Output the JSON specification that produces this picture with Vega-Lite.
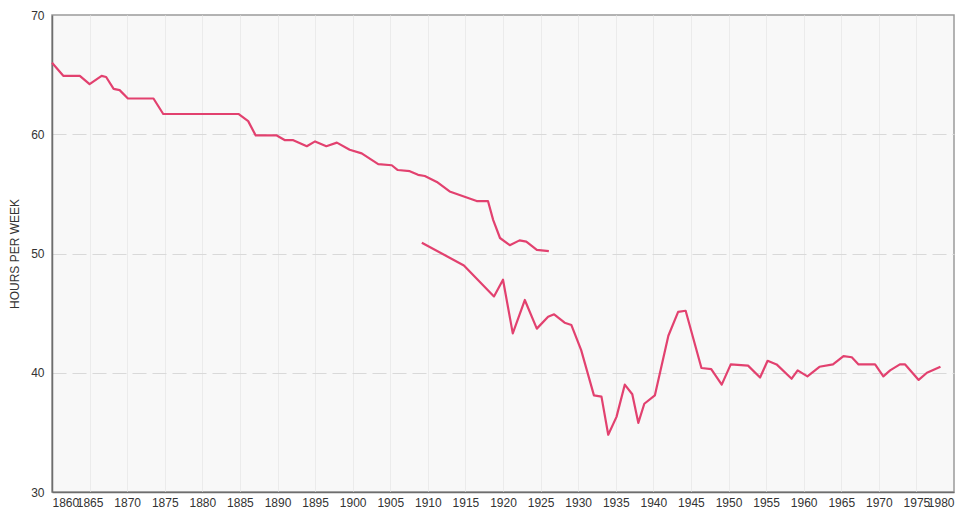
{
  "$schema": "https://vega.github.io/schema/vega-lite/v6.json",
  "width": 902,
  "height": 477,
  "autosize": {"type": "none"},
  "padding": {"left": 52, "top": 15, "right": 7, "bottom": 20},
  "background": "#ffffff",
  "config": {
    "view": {"fill": "#f8f8f8", "stroke": "#9a9a9a", "strokeWidth": 1.5},
    "font": "Liberation Sans"
  },
  "data": {
    "values": [
      {"series": "A", "year": 1860, "hours": 66.0},
      {"series": "A", "year": 1861.5, "hours": 64.9},
      {"series": "A", "year": 1863.7, "hours": 64.9},
      {"series": "A", "year": 1865, "hours": 64.2},
      {"series": "A", "year": 1866.6, "hours": 64.9},
      {"series": "A", "year": 1867.2, "hours": 64.8},
      {"series": "A", "year": 1868.2, "hours": 63.8},
      {"series": "A", "year": 1869, "hours": 63.7},
      {"series": "A", "year": 1870.1, "hours": 63.0},
      {"series": "A", "year": 1873.5, "hours": 63.0},
      {"series": "A", "year": 1874.8, "hours": 61.7},
      {"series": "A", "year": 1884.8, "hours": 61.7},
      {"series": "A", "year": 1886.1, "hours": 61.1},
      {"series": "A", "year": 1887.1, "hours": 59.9},
      {"series": "A", "year": 1889.9, "hours": 59.9},
      {"series": "A", "year": 1891, "hours": 59.5},
      {"series": "A", "year": 1892.1, "hours": 59.5},
      {"series": "A", "year": 1893.9, "hours": 59.0},
      {"series": "A", "year": 1895, "hours": 59.4},
      {"series": "A", "year": 1896.5, "hours": 59.0},
      {"series": "A", "year": 1897.9, "hours": 59.3},
      {"series": "A", "year": 1899.6, "hours": 58.7},
      {"series": "A", "year": 1901.2, "hours": 58.4},
      {"series": "A", "year": 1903.4, "hours": 57.5},
      {"series": "A", "year": 1905.2, "hours": 57.4},
      {"series": "A", "year": 1906, "hours": 57.0},
      {"series": "A", "year": 1907.6, "hours": 56.9},
      {"series": "A", "year": 1908.7, "hours": 56.6},
      {"series": "A", "year": 1909.6, "hours": 56.5},
      {"series": "A", "year": 1911.2, "hours": 56.0},
      {"series": "A", "year": 1912.9, "hours": 55.2},
      {"series": "A", "year": 1914.7, "hours": 54.8},
      {"series": "A", "year": 1916.5, "hours": 54.4},
      {"series": "A", "year": 1918, "hours": 54.4},
      {"series": "A", "year": 1918.7, "hours": 52.8},
      {"series": "A", "year": 1919.6, "hours": 51.3},
      {"series": "A", "year": 1920.9, "hours": 50.7},
      {"series": "A", "year": 1922.2, "hours": 51.1},
      {"series": "A", "year": 1923.1, "hours": 51.0},
      {"series": "A", "year": 1924.5, "hours": 50.3},
      {"series": "A", "year": 1926.1, "hours": 50.2},
      {"series": "B", "year": 1909.2, "hours": 50.9},
      {"series": "B", "year": 1914.8, "hours": 49.0},
      {"series": "B", "year": 1918.8, "hours": 46.4},
      {"series": "B", "year": 1920.0, "hours": 47.8},
      {"series": "B", "year": 1921.3, "hours": 43.3},
      {"series": "B", "year": 1922.9, "hours": 46.1},
      {"series": "B", "year": 1924.5, "hours": 43.7},
      {"series": "B", "year": 1926.0, "hours": 44.7},
      {"series": "B", "year": 1926.8, "hours": 44.9},
      {"series": "B", "year": 1928.2, "hours": 44.2},
      {"series": "B", "year": 1929.1, "hours": 44.0},
      {"series": "B", "year": 1930.4, "hours": 41.9},
      {"series": "B", "year": 1932.1, "hours": 38.1},
      {"series": "B", "year": 1933.1, "hours": 38.0},
      {"series": "B", "year": 1934.0, "hours": 34.8},
      {"series": "B", "year": 1935.1, "hours": 36.3},
      {"series": "B", "year": 1936.2, "hours": 39.0},
      {"series": "B", "year": 1937.2, "hours": 38.2},
      {"series": "B", "year": 1938.0, "hours": 35.8},
      {"series": "B", "year": 1938.8, "hours": 37.4},
      {"series": "B", "year": 1940.2, "hours": 38.1},
      {"series": "B", "year": 1942.0, "hours": 43.1},
      {"series": "B", "year": 1943.3, "hours": 45.1},
      {"series": "B", "year": 1944.3, "hours": 45.2},
      {"series": "B", "year": 1946.4, "hours": 40.4},
      {"series": "B", "year": 1947.7, "hours": 40.3},
      {"series": "B", "year": 1949.1, "hours": 39.0},
      {"series": "B", "year": 1950.3, "hours": 40.7},
      {"series": "B", "year": 1952.6, "hours": 40.6},
      {"series": "B", "year": 1954.2, "hours": 39.6},
      {"series": "B", "year": 1955.2, "hours": 41.0},
      {"series": "B", "year": 1956.4, "hours": 40.7},
      {"series": "B", "year": 1958.4, "hours": 39.5},
      {"series": "B", "year": 1959.2, "hours": 40.2},
      {"series": "B", "year": 1960.5, "hours": 39.7},
      {"series": "B", "year": 1962.1, "hours": 40.5},
      {"series": "B", "year": 1963.9, "hours": 40.7},
      {"series": "B", "year": 1965.3, "hours": 41.4},
      {"series": "B", "year": 1966.4, "hours": 41.3},
      {"series": "B", "year": 1967.3, "hours": 40.7},
      {"series": "B", "year": 1969.5, "hours": 40.7},
      {"series": "B", "year": 1970.6, "hours": 39.7},
      {"series": "B", "year": 1971.5, "hours": 40.2},
      {"series": "B", "year": 1972.8, "hours": 40.7},
      {"series": "B", "year": 1973.5, "hours": 40.7},
      {"series": "B", "year": 1975.3, "hours": 39.4},
      {"series": "B", "year": 1976.4, "hours": 40.0},
      {"series": "B", "year": 1978.2, "hours": 40.5}
    ]
  },
  "mark": {"type": "line", "color": "#e2416f", "strokeWidth": 2.2, "strokeJoin": "round"},
  "encoding": {
    "x": {
      "field": "year",
      "type": "quantitative",
      "scale": {"domain": [1860, 1980], "nice": false, "zero": false},
      "axis": {
        "title": null,
        "values": [1860, 1865, 1870, 1875, 1880, 1885, 1890, 1895, 1900, 1905, 1910, 1915, 1920, 1925, 1930, 1935, 1940, 1945, 1950, 1955, 1960, 1965, 1970, 1975, 1980],
        "format": "d",
        "ticks": false,
        "domain": true,
        "domainColor": "#6e6e6e",
        "domainWidth": 1.5,
        "grid": true,
        "gridColor": "#ebebeb",
        "gridWidth": 1,
        "gridOpacity": {"condition": {"test": "datum.value == 1860 || datum.value == 1980", "value": 0}, "value": 1},
        "labelFontSize": 12,
        "labelColor": "#333333",
        "labelPadding": 5,
        "labelOverlap": false
      }
    },
    "y": {
      "field": "hours",
      "type": "quantitative",
      "scale": {"domain": [30, 70], "nice": false, "zero": false},
      "axis": {
        "title": "HOURS PER WEEK",
        "titleFontSize": 12,
        "titleFontWeight": "normal",
        "titleColor": "#333333",
        "titlePadding": 9,
        "values": [30, 40, 50, 60, 70],
        "ticks": false,
        "domain": true,
        "domainColor": "#6e6e6e",
        "domainWidth": 1.5,
        "grid": true,
        "gridColor": "#d9d9d9",
        "gridDash": [14, 6],
        "gridOpacity": {"condition": {"test": "datum.value == 30 || datum.value == 70", "value": 0}, "value": 1},
        "labelFontSize": 12,
        "labelColor": "#333333",
        "labelPadding": 8
      }
    },
    "detail": {"field": "series", "type": "nominal"}
  }
}
